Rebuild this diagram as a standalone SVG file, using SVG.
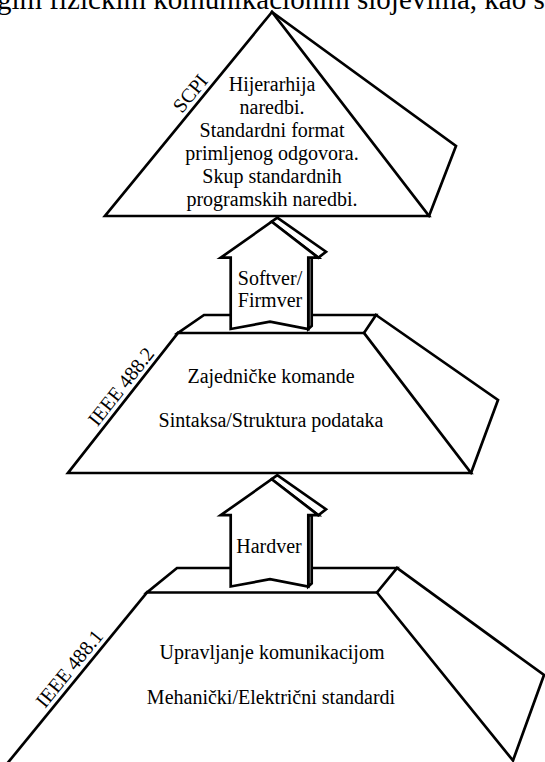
<svg xmlns="http://www.w3.org/2000/svg" width="545" height="762" viewBox="0 0 545 762">
  <style>
    .edge { fill: none; stroke: #000; stroke-width: 2.7; stroke-linejoin: miter; stroke-linecap: square; }
    .solid { fill: #fff; stroke: #000; stroke-width: 2.7; stroke-linejoin: miter; }
    text { font-family: "Liberation Serif", "Times New Roman", serif; font-size: 20px; fill: #000; }
    .c { text-anchor: middle; }
    .caption { font-size: 29px; }
  </style>
  <defs>
    <!-- block arrow with a shallow 3D side, tip at the top -->
    <g id="up-arrow">
      <path class="solid" d="M271.7,221.7 L277.3,217.7 L326,251.7 L318.3,257.7 Z"/>
      <path class="solid" d="M308.3,257.7 H311.7 V326 L308.3,329 Z"/>
      <path class="solid" d="M271.7,221.7 L318.3,257.7 H308.3 V329 L270,321.7 L230.7,329 V257.7 H220.7 Z"/>
    </g>
  </defs>

  <rect width="545" height="762" fill="#fff"/>

  <text class="caption" x="-3" y="8.5">gim fizičkim komunikacionim slojevima, kao s</text>

  <!-- top layer: SCPI pyramid -->
  <g id="layer-scpi">
    <path class="edge" d="M272,12 L105,216 H429 Z"/>
    <path class="edge" d="M272,12 L456,146 L429,216"/>
    <text class="c" transform="translate(195.4,97.6) rotate(-50.7)">SCPI</text>
    <text class="c" x="272" y="90.7">Hijerarhija</text>
    <text class="c" x="272" y="113.7">naredbi.</text>
    <text class="c" x="272" y="136.7">Standardni format</text>
    <text class="c" x="272" y="159.7">primljenog odgovora.</text>
    <text class="c" x="272" y="182.7">Skup standardnih</text>
    <text class="c" x="272" y="205.7">programskih naredbi.</text>
  </g>

  <!-- middle layer: IEEE 488.2 -->
  <g id="layer-ieee-488-2">
    <path class="edge" d="M204,315 H376 L364,333 H178 Z"/>
    <path class="edge" d="M178,333 L68,473 H471 L364,333"/>
    <path class="edge" d="M376,315 L498,400 L471,473"/>
    <text class="c" transform="translate(126.3,390.7) rotate(-51.8)">IEEE 488.2</text>
    <text class="c" x="271" y="383">Zajedničke komande</text>
    <text class="c" x="271" y="427">Sintaksa/Struktura podataka</text>
  </g>

  <!-- bottom layer: IEEE 488.1 -->
  <g id="layer-ieee-488-1">
    <path class="edge" d="M177,568 H397 L377,592.5 H147 Z"/>
    <path class="edge" d="M147,592.5 L-3,776"/>
    <path class="edge" d="M377,592.5 L513,760.5 L544,675 L397,568"/>
    <text class="c" transform="translate(74.5,672.8) rotate(-50.8)">IEEE 488.1</text>
    <text class="c" x="272" y="659">Upravljanje komunikacijom</text>
    <text class="c" x="271" y="704">Mehanički/Električni standardi</text>
  </g>

  <!-- links between layers -->
  <g id="connectors">
    <g id="arrow-softver">
      <use href="#up-arrow"/>
      <text class="c" x="270" y="285">Softver/</text>
      <text class="c" x="270" y="306.5">Firmver</text>
    </g>
    <g id="arrow-hardver">
      <use href="#up-arrow" transform="translate(0,257.5)"/>
      <text class="c" x="269" y="553">Hardver</text>
    </g>
  </g>
</svg>
